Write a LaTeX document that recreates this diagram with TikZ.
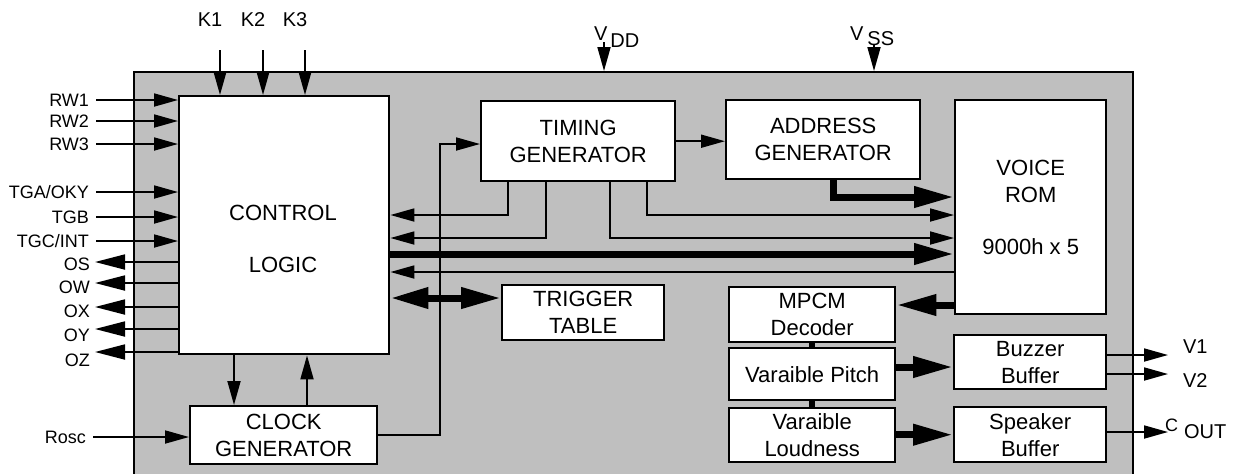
\documentclass[tikz,border=0pt]{standalone}
\usepackage{fontspec}
\setmainfont{Liberation Sans}
\usetikzlibrary{arrows.meta}

\tikzset{
	box/.style = {draw, line width = 1.2pt, fill = white, align = center, inner sep = 0pt, anchor = north west},
	sigtext/.style = {font = \fontsize{9}{10}\selectfont},
	pintext/.style = {font = \fontsize{10}{11}\selectfont},
	sig/.style = {line width = 0.9pt, -{Triangle[length = 12pt, width = 6.5pt]}},
	outsig/.style = {line width = 0.9pt, -{Triangle[length = 15pt, width = 7.5pt]}},
	bus/.style = {line width = 3.5pt, -{Triangle[length = 20pt, width = 10pt]}},
	dbus/.style = {line width = 3.5pt, {Triangle[length = 19pt, width = 10pt]}-{Triangle[length = 20pt, width = 10pt]}},
	link/.style = {line width = 3pt}
}

\begin{document}
\begin{tikzpicture}[x = 0.5pt, y = -0.5pt, font = \fontsize{11}{13.5}\selectfont]
	\useasboundingbox (0,0) rectangle (1236,473);

	\node [draw, line width = 1pt, fill = black!25, anchor = north west, minimum width = 499.5pt, minimum height = 206pt, inner sep = 0pt] (chip) at (133,71) {};

	\node [box, minimum width = 105pt, minimum height = 129pt] (ctrl) at (178,95) {};
	\node [align = center] (ctrltext) at (283,239) {CONTROL\\[12.5pt]LOGIC};
	\node [box, minimum width = 93.5pt, minimum height = 29pt] (clk) at (189,405) {CLOCK\\GENERATOR};
	\node [box, minimum width = 97pt, minimum height = 40pt] (tmg) at (480,100) {TIMING\\GENERATOR};
	\node [box, minimum width = 97pt, minimum height = 39.5pt] (addr) at (725,99) {ADDRESS\\GENERATOR};
	\node [box, minimum width = 75.5pt, minimum height = 107pt] (rom) at (954,99) {VOICE\\ROM\\[12.5pt]9000h x 5};
	\node [box, minimum width = 81pt, minimum height = 27.5pt] (trig) at (501,284) {TRIGGER\\TABLE};
	\node [box, minimum width = 83pt, minimum height = 27.5pt] (mpcm) at (728,286) {MPCM\\Decoder};
	\node [box, minimum width = 83pt, minimum height = 26pt] (pitch) at (728,347) {Varaible Pitch};
	\node [box, minimum width = 83pt, minimum height = 27pt] (loud) at (728,407) {Varaible\\Loudness};
	\node [box, minimum width = 76pt, minimum height = 27pt] (buzz) at (953,334) {Buzzer\\Buffer};
	\node [box, minimum width = 76pt, minimum height = 27.5pt] (spk) at (953,406) {Speaker\\Buffer};

	\foreach \k/\x in {K1/220, K2/263, K3/305}
	{
		\coordinate (\k) at (\x,50);
		\node [pintext] (lbl\k) at (\x-10,20) {\k};
		\draw [sig] (\k) -- (\k |- ctrl.north);
	}

	\foreach \s/\y [count = \i] in {RW1/100, RW2/121, RW3/144, {TGA/OKY}/192, TGB/217, {TGC/INT}/241}
	{
		\node [left, sigtext] (in\i) at (96,\y) {\s};
		\draw [sig] (in\i) -- (in\i -| ctrl.west);
	}

	\foreach \s/\y/\ly [count = \i] in {OS/262/264, OW/283/287, OX/307/311, OY/329/335, OZ/352/360}
	{
		\coordinate (out\i) at (95,\y);
		\node [left, sigtext] (lblout\i) at (97,\ly) {\s};
		\draw [outsig] (out\i -| ctrl.west) -- (out\i);
	}

	\node [left, sigtext] (rosc) at (93,437) {Rosc};
	\draw [sig] (rosc) -- (rosc -| clk.west);

	\coordinate (cdown) at (234,380);
	\coordinate (cup) at (307,380);
	\draw [sig] (cdown |- ctrl.south) -- (cdown |- clk.north);
	\draw [sig] (cup |- clk.north) -- (cup |- ctrl.south);

	\coordinate (tline) at (440,144);
	\draw [sig] (clk.east) -| (tline) -- (tline -| tmg.west);
	\draw [sig] (tmg.east) -- (tmg.east -| addr.west);

	\foreach \x/\y [count = \i] in {508/215, 546/238}
	{
		\coordinate (tl\i) at (\x,\y);
		\draw [sig] (tl\i |- tmg.south) -- (tl\i) -- (tl\i -| ctrl.east);
	}
	\foreach \x/\y [count = \i] in {610/238, 647/215}
	{
		\coordinate (tr\i) at (\x,\y);
		\draw [sig] (tr\i |- tmg.south) -- (tr\i) -- (tr\i -| rom.west);
	}

	\coordinate (abus) at (833,197);
	\draw [bus] (abus |- addr.south) -- (abus) -- (abus -| rom.west);
	\coordinate (mbus) at (660,254);
	\draw [bus] (mbus -| ctrl.east) -- (mbus -| rom.west);
	\coordinate (rbus) at (660,272);
	\draw [sig] (rbus -| rom.west) -- (rbus -| ctrl.east);
	\coordinate (tbus) at (450,298);
	\draw [dbus] (tbus -| ctrl.east) -- (tbus -| trig.west);

	\coordinate (mback) at (920,305);
	\draw [bus] (mback -| rom.west) -- (mback -| mpcm.east);
	\coordinate (pbz) at (920,367);
	\draw [bus] (pbz -| pitch.east) -- (pbz -| buzz.west);
	\draw [bus] (spk.west -| loud.east) -- (spk.west);
	\draw [link] (mpcm.south) -- (pitch.north);
	\draw [link] (pitch.south) -- (loud.north);

	\coordinate (v1) at (1168,355);
	\coordinate (v2) at (1168,374);
	\coordinate (cout) at (1168,432);
	\draw [sig] (v1 -| buzz.east) -- (v1);
	\draw [sig] (v2 -| buzz.east) -- (v2);
	\draw [sig] (cout -| spk.east) -- (cout);
	\node [right, pintext] (lblv1) at (1176,347) {V1};
	\node [right, pintext] (lblv2) at (1176,381) {V2};
	\node [anchor = base west, pintext] (lblcout) at (1158,431) {{\fontsize{9}{9}\selectfont C}\hspace{3pt}\raisebox{-3.5pt}{OUT}};

	\coordinate (vdd) at (604,42);
	\coordinate (vss) at (874,45);
	\draw [sig] (vdd) -- (vdd |- chip.north);
	\draw [sig] (vss) -- (vss |- chip.north);
	\node [anchor = base west, pintext] (lblvdd) at (587,40) {V\hspace{1.5pt}\raisebox{-3.5pt}{DD}};
	\node [anchor = base west, pintext] (lblvss) at (843,40) {V\hspace{2pt}\raisebox{-2.5pt}{SS}};
\end{tikzpicture}
\end{document}
